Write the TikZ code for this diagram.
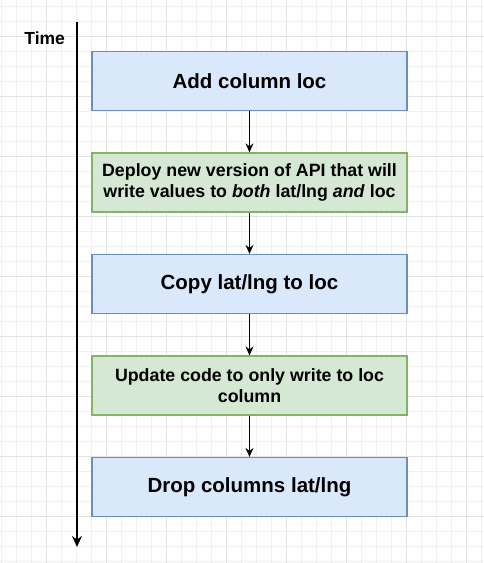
\documentclass[tikz,border=0pt]{standalone}
\usepackage{fontspec}
\setmainfont{Liberation Sans}
\usetikzlibrary{positioning,arrows.meta}
\definecolor{stepblue}{HTML}{DAE8FC}
\definecolor{stepblueline}{HTML}{6C8EBF}
\definecolor{stepgreen}{HTML}{D5E8D4}
\definecolor{stepgreenline}{HTML}{82B366}
\definecolor{gridminor}{HTML}{F1F1F1}
\definecolor{gridmajor}{HTML}{E4E4E4}
\tikzset{
  bluebox/.style={draw=stepblueline, fill=stepblue, line width=1.2pt, minimum width=315pt, minimum height=59pt, align=center, font=\fontsize{20.5}{24}\selectfont\bfseries},
  greenbox/.style={draw=stepgreenline, fill=stepgreen, line width=1.2pt, minimum width=315pt, minimum height=59pt, align=center, font=\fontsize{17.8}{21.6}\selectfont\bfseries},
  arrow/.style={-{Stealth[length=9pt,width=8pt]}, line width=1.3pt, black},
  timeaxis/.style={-{Stealth[length=11pt,width=10pt]}, line width=1.6pt, black}
}

\begin{document}
\begin{tikzpicture}[x=1pt, y=1pt, node distance=41.3pt]
    \useasboundingbox (0,0) rectangle (484,-563);
    % canvas grid
    \foreach \x in {1.7,16.7,...,484} \draw[gridminor, line width=0.8pt] (\x,0) -- (\x,-563);
    \foreach \y in {6.7,21.7,...,563} \draw[gridminor, line width=0.8pt] (0,-\y) -- (484,-\y);
    \foreach \x in {46.7,106.7,...,484} \draw[gridmajor, line width=0.8pt] (\x,0) -- (\x,-563);
    \foreach \y in {36.7,96.7,...,563} \draw[gridmajor, line width=0.8pt] (0,-\y) -- (484,-\y);

    \node[bluebox] (addcol) at (249.5,-81) {Add column loc};
    \node[greenbox, below=of addcol] (deploy) {Deploy new version of API that will\\write values to \textit{both} lat/lng \textit{and} loc};
    \node[bluebox, below=of deploy] (copy) {Copy lat/lng to loc};
    \node[greenbox, below=of copy] (update) {Update code to only write to loc\\column};
    \node[bluebox, below=of update] (drop) {Drop columns lat/lng};

    \draw[arrow] (addcol) -- (deploy);
    \draw[arrow] (deploy) -- (copy);
    \draw[arrow] (copy) -- (update);
    \draw[arrow] (update) -- (drop);

    % time line
    \coordinate (tstart) at (77,-21.5);
    \coordinate (tend) at (77,-547);
    \node[font=\fontsize{17.5}{20}\selectfont\bfseries, anchor=east] (time) at (68.5,-38.5) {Time};
    \draw[timeaxis] (tstart) -- (tend);
  \end{tikzpicture}
\end{document}
